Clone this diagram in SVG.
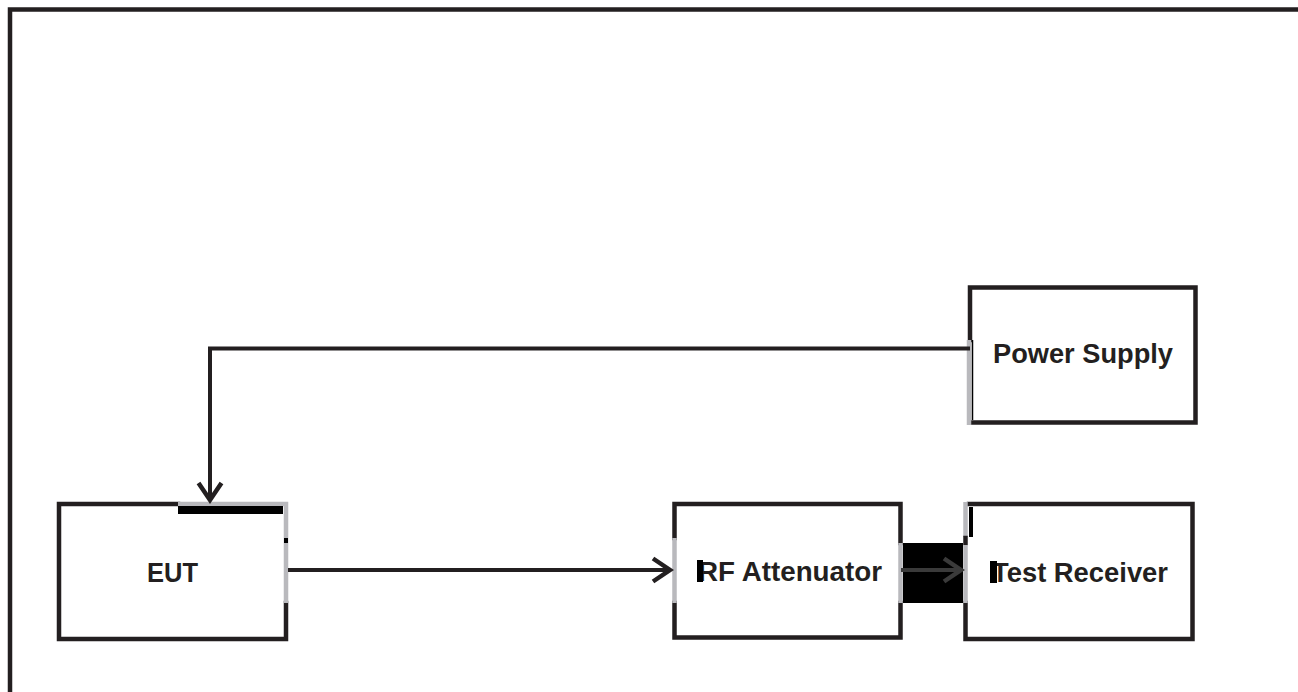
<svg xmlns="http://www.w3.org/2000/svg" width="1298" height="692" viewBox="0 0 1298 692">
  <style>
    .edge { fill: none; stroke: #231f20; stroke-width: 4.5; stroke-linecap: square; }
    .ghost { fill: none; stroke: #b9b9bd; stroke-width: 4.5; }
    .blk { fill: #000; }
    .lbl { font-family: "Liberation Sans", Arial, sans-serif; font-weight: bold; font-size: 27px; fill: #231f20; text-anchor: middle; }
    .conn { fill: none; stroke: #231f20; stroke-width: 4; }
  </style>
  <defs>
    <marker id="arrow" viewBox="0 0 24 28" refX="21" refY="14" markerWidth="24" markerHeight="28" markerUnits="userSpaceOnUse" orient="auto">
      <path d="M3,2.5 L20,14 L3,25.5" fill="none" stroke="#231f20" stroke-width="4.5" stroke-linejoin="miter"/>
    </marker>
    <marker id="arrow2" viewBox="0 0 24 28" refX="21" refY="14" markerWidth="24" markerHeight="28" markerUnits="userSpaceOnUse" orient="auto">
      <path d="M3,2.5 L20,14 L3,25.5" fill="none" stroke="#3a3a3a" stroke-width="4.5" stroke-linejoin="miter"/>
    </marker>
  </defs>

  <rect width="1298" height="692" fill="#ffffff"/>

  <!-- outer frame -->
  <path d="M10,692 V9.5 H1298" fill="none" stroke="#231f20" stroke-width="4.5"/>

  <!-- EUT -->
  <g id="eut">
    <rect x="59" y="504" width="227" height="135" fill="#fff"/>
    <path class="edge" d="M178,504 H59 V639 H286 V603"/>
    <path class="ghost" d="M178,504 H286 V603"/>
    <rect class="blk" x="178" y="506" width="105" height="8"/>
    <rect class="blk" x="284" y="538" width="4" height="5"/>
    <text class="lbl" x="172.5" y="582" textLength="51" lengthAdjust="spacingAndGlyphs">EUT</text>
  </g>

  <!-- RF Attenuator -->
  <g id="rf-attenuator">
    <rect x="674.5" y="504" width="226" height="133.5" fill="#fff"/>
    <path class="edge" d="M674.5,538 V504 H900.5 V543"/>
    <path class="edge" d="M674.5,603 V637.5 H900.5 V603"/>
    <path class="ghost" d="M674.5,538 V603"/>
    <path class="ghost" d="M900.5,543 V603"/>
    <text class="lbl" x="790" y="581" textLength="184" lengthAdjust="spacingAndGlyphs">RF Attenuator</text>
    <rect class="blk" x="697" y="560" width="6" height="22"/>
  </g>

  <!-- Test Receiver -->
  <g id="test-receiver">
    <rect x="965.5" y="504" width="227" height="135" fill="#fff"/>
    <path class="edge" d="M965.5,603 V639 H1192.5 V504 H969"/>
    <path class="ghost" d="M965.5,502 V537"/>
    <path class="edge" d="M965.5,538 V543" stroke-linecap="butt"/>
    <path class="ghost" d="M965.5,545 V603"/>
    <rect class="blk" x="969" y="507" width="4" height="30"/>
    <text class="lbl" x="1080" y="582" textLength="176" lengthAdjust="spacingAndGlyphs">Test Receiver</text>
    <rect class="blk" x="990" y="561" width="7" height="22"/>
  </g>

  <!-- Power Supply -->
  <g id="power-supply">
    <rect x="970" y="287.5" width="225.5" height="135" fill="#fff"/>
    <path class="edge" d="M970,340 V287.5 H1195.5 V422.5 H972"/>
    <path class="ghost" d="M969,340 V425"/>
    <path d="M972.5,340 V420" stroke="#000" stroke-width="1.5"/>
    <text class="lbl" x="1083" y="363" textLength="180" lengthAdjust="spacingAndGlyphs">Power Supply</text>
  </g>

  <!-- connectors -->
  <g id="connectors">
    <path class="conn" d="M970,348.5 H210 V501" marker-end="url(#arrow)"/>
    <path class="conn" d="M288,570 H671" marker-end="url(#arrow)"/>
    <rect class="blk" x="903" y="543" width="60" height="60"/>
    <path d="M901,570 H962" fill="none" stroke="#3a3a3a" stroke-width="4" marker-end="url(#arrow2)"/>
  </g>
</svg>
